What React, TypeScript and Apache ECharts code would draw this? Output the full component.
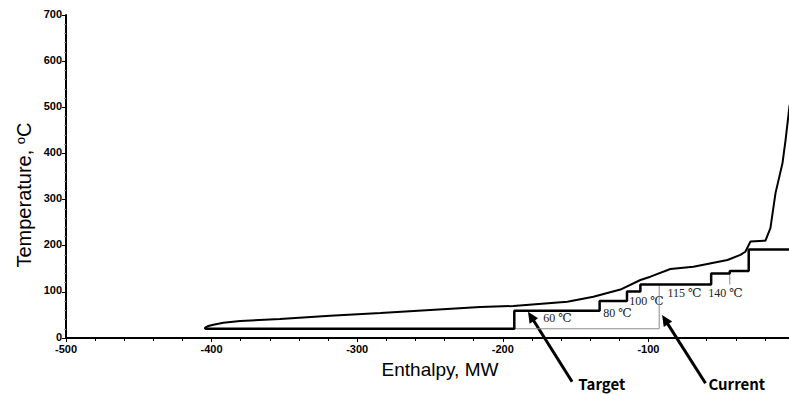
import React, { useEffect, useRef } from "react";
import * as echarts from "echarts";

// Hot composite curve (enthalpy MW, temperature °C)
const hotEnthalpy = [-404.5, -404.5, -402.2, -398.8, -391.9, -380.4, -353, -318.6, -284, -215.5, -192.8, -155.7, -137.8, -119.2, -105.5, -98.6, -84.9, -69.1, -45.7, -36.8, -33.4, -29.9, -19.6, -16.2, -12.7, -7.9, -5.8, -3];
const hotTemp = [19, 22.3, 26, 28.8, 33.2, 36.8, 41, 48, 54, 67, 69.4, 78.7, 89.5, 105, 125.7, 132.9, 149.5, 154.5, 169, 180, 187, 209, 211, 238, 314, 379, 429, 505];

// Target (cold step) curve
const targetEnthalpy = [-404.5, -192.1, -192.1, -133.5, -133.5, -114.7, -114.7, -105.5, -105.5, -56.9, -56.9, -44.1, -44.1, -31.1, -31.1, 0];
const targetTemp = [20, 20, 59, 59, 80, 80, 101, 101, 116, 116, 140, 140, 145, 145, 192, 192];

// Current (thin grey) segments
const currentEnthalpyA = [-192.1, -92.6, -92.6];
const currentTempA = [20, 20, 116];
const currentEnthalpyB = [-44.1, -44.1];
const currentTempB = [140, 116];

// Level labels
const levelLabels = ["60 ℃", "80 ℃", "100 ℃", "115 ℃", "140 ℃"];
const levelLabelEnthalpy = [-162.5, -121.3, -101.4, -75.3, -47];
const levelLabelTemp = [43, 54, 80, 97, 97];

// Arrow annotations
const arrowNames = ["Target", "Current"];
const arrowTail = [[-152.4, -94.7], [-60.8, -98.2]];
const arrowTip = [[-182.7, 57], [-90.6, 49.8]];
const arrowLabelAt = [[-148.1, -98], [-58.8, -98]];

const zip = (a: number[], b: number[]) => a.map((v, i) => [v, b[i]]);

export default function App() {
  const ref = useRef<HTMLDivElement>(null);
  useEffect(() => {
    if (!ref.current) return;
    const chart = echarts.init(ref.current, null, { renderer: "svg" });
    const tickFont = { fontFamily: "Liberation Sans, Arial, sans-serif", fontWeight: "bold" as const, fontSize: 11, color: "#000" };
    chart.setOption({
      animation: false,
      backgroundColor: "#fff",
      grid: { left: 66, right: 0, top: 15, bottom: 56 },
      xAxis: {
        type: "value",
        min: -500,
        max: 0,
        interval: 100,
        axisLine: { show: true, onZero: false, lineStyle: { color: "#000", width: 2 } },
        axisTick: { show: true, length: 4, lineStyle: { color: "#000", width: 1 } },
        minorTick: { show: true, splitNumber: 5, length: 3, lineStyle: { color: "#000", width: 1 } },
        axisLabel: { ...tickFont, margin: 5, showMaxLabel: false },
        splitLine: { show: false },
      },
      yAxis: {
        type: "value",
        min: 0,
        max: 700,
        interval: 100,
        axisLine: { show: true, onZero: false, lineStyle: { color: "#000", width: 2 } },
        axisTick: { show: true, length: 4, lineStyle: { color: "#000", width: 1 } },
        minorTick: { show: true, splitNumber: 5, length: 2, lineStyle: { color: "#999", width: 1 } },
        axisLabel: { ...tickFont, margin: 4, verticalAlign: "bottom", lineHeight: 11, padding: [0, 0, -4, 0] },
        splitLine: { show: false },
      },
      series: [
        { type: "line", data: zip(currentEnthalpyA, currentTempA), symbol: "none", lineStyle: { color: "#8a8a8a", width: 1 }, z: 1 },
        { type: "line", data: zip(currentEnthalpyB, currentTempB), symbol: "none", lineStyle: { color: "#8a8a8a", width: 1 }, z: 1 },
        { type: "line", data: zip(hotEnthalpy, hotTemp), symbol: "none", lineStyle: { color: "#000", width: 2 }, z: 3 },
        { type: "line", data: zip(targetEnthalpy, targetTemp), symbol: "none", lineStyle: { color: "#000", width: 2.5 }, z: 3 },
      ],
    });

    const px = (p: number[]) => chart.convertToPixel({ gridIndex: 0 }, p) as number[];
    const graphics: any[] = [];
    levelLabels.forEach((t, i) => {
      const [x, y] = px([levelLabelEnthalpy[i], levelLabelTemp[i]]);
      graphics.push({
        type: "text", x, y,
        style: { text: t, fill: "#222", font: "12px 'Liberation Serif', 'DejaVu Serif', 'Noto Sans CJK JP', serif", textAlign: "center", textVerticalAlign: "middle" },
      });
    });
    arrowNames.forEach((name, i) => {
      const [x1, y1] = px(arrowTail[i]);
      const [x2, y2] = px(arrowTip[i]);
      const dx = x2 - x1, dy = y2 - y1;
      const len = Math.sqrt(dx * dx + dy * dy);
      const ux = dx / len, uy = dy / len;
      const headLen = 11, headW = 5;
      const bx = x2 - ux * headLen, by = y2 - uy * headLen;
      graphics.push({
        type: "line",
        shape: { x1, y1, x2: bx + ux * 2, y2: by + uy * 2 },
        style: { stroke: "#000", lineWidth: 3 },
      });
      graphics.push({
        type: "polygon",
        shape: { points: [[x2, y2], [bx - uy * headW, by + ux * headW], [bx + uy * headW, by - ux * headW]] },
        style: { fill: "#000" },
      });
      const [lx, ly] = px(arrowLabelAt[i]);
      graphics.push({
        type: "text", x: lx, y: ly,
        style: { text: name, fill: "#000", font: "bold 15px 'Noto Sans CJK JP', 'Liberation Sans', sans-serif", textAlign: "left", textVerticalAlign: "middle" },
      });
    });
    graphics.push({
      type: "text", x: 24, y: 195, rotation: Math.PI / 2,
      style: {
        text: "Temperature, {s|o}C",
        rich: { s: { fontSize: 13, verticalAlign: "top", padding: [0, 0, 8, 0], fill: "#000", fontFamily: "Liberation Sans, Arial, sans-serif" } },
        fill: "#000", font: "20px 'Liberation Sans', Arial, sans-serif", textAlign: "center", textVerticalAlign: "middle",
      },
    });
    graphics.push({
      type: "text", x: 440, y: 369,
      style: { text: "Enthalpy, MW", fill: "#000", font: "19px 'Liberation Sans', Arial, sans-serif", textAlign: "center", textVerticalAlign: "middle" },
    });
    chart.setOption({ graphic: graphics });
    return () => chart.dispose();
  }, []);
  return (
    <div style={{ position: "absolute", left: 0, top: 0, width: 789, height: 394, overflow: "hidden" }}>
      <div ref={ref} style={{ position: "absolute", left: 0, top: 0, width: 794, height: 394 }} />
    </div>
  );
}
